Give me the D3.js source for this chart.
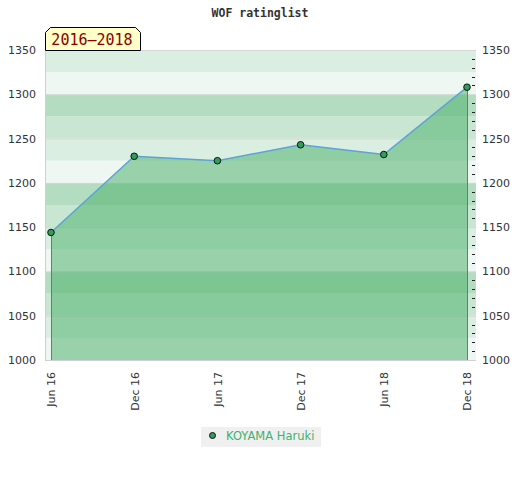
<!DOCTYPE html>
<meta charset="utf-8">
<style>
  body { margin: 0; background: #fff; }
  text { font-family: "DejaVu Sans", sans-serif; }
  .tick text { fill: #333; font-size: 11px; }
</style>
<body>
<script src="https://cdn.jsdelivr.net/npm/d3@7"></script>
<script>
// data
var months = ["Jun 16", "Dec 16", "Jun 17", "Dec 17", "Jun 18", "Dec 18"];
var ratings = [1144, 1230, 1225, 1243, 1232, 1308];
var player = "KOYAMA Haruki";
var period = "2016\u20132018";
var title = "WOF ratinglist";

var width = 520, height = 480;
var plot = { left: 45, right: 476, top: 50, bottom: 360 };

var svg = d3.select("body").append("svg")
  .attr("width", width)
  .attr("height", height);

// scales
var x = d3.scalePoint()
  .domain(months)
  .range([plot.left + 6, plot.right - 9]);
var y = d3.scaleLinear()
  .domain([1000, 1350])
  .range([plot.bottom, plot.top]);

// background bands, 25 points each
var bandColors = ["#eef7f1", "#dbeee2", "#c8e6d2", "#b3dcc1"];
var bands = d3.range(1000, 1350, 25);
svg.append("g").selectAll("rect")
  .data(bands)
  .enter().append("rect")
  .attr("x", plot.left)
  .attr("width", plot.right - plot.left)
  .attr("y", function(d) { return y(d + 25); })
  .attr("height", function(d) { return y(d) - y(d + 25); })
  .attr("fill", function(d, i) { return bandColors[i % 4]; });

// grid lines every 50
svg.append("g").selectAll("line")
  .data(y.ticks(7))
  .enter().append("line")
  .attr("x1", plot.left).attr("x2", plot.right)
  .attr("y1", function(d) { return y(d) + 0.5; })
  .attr("y2", function(d) { return y(d) + 0.5; })
  .attr("stroke", "#d6d6d6");

svg.append("line")
  .attr("x1", plot.left + 0.5).attr("x2", plot.left + 0.5)
  .attr("y1", plot.top).attr("y2", plot.bottom + 1)
  .attr("stroke", "#d0d0d0");

// area under the rating line
var area = d3.area()
  .x(function(d, i) { return x(months[i]); })
  .y0(y(1000))
  .y1(function(d) { return y(d); });

svg.append("path")
  .datum(ratings)
  .attr("d", area)
  .attr("fill", "rgb(79,178,109)")
  .attr("fill-opacity", 0.54);

// drop lines at both ends
var ends = [0, ratings.length - 1];
svg.append("g").selectAll("line")
  .data(ends)
  .enter().append("line")
  .attr("x1", function(i) { return x(months[i]) + 0.5; })
  .attr("x2", function(i) { return x(months[i]) + 0.5; })
  .attr("y1", function(i) { return y(ratings[i]); })
  .attr("y2", y(1000))
  .attr("stroke", "#2e9e5a");

var line = d3.line()
  .x(function(d, i) { return x(months[i]); })
  .y(function(d) { return y(d); });

svg.append("path")
  .datum(ratings)
  .attr("d", line)
  .attr("fill", "none")
  .attr("stroke", "#5ba3d9")
  .attr("stroke-width", 1.5);

svg.append("g").selectAll("circle")
  .data(ratings)
  .enter().append("circle")
  .attr("cx", function(d, i) { return x(months[i]); })
  .attr("cy", function(d) { return y(d); })
  .attr("r", 3.3)
  .attr("fill", "#2e9e5a")
  .attr("stroke", "#111")
  .attr("stroke-width", 1);

// left axis (labels only)
var leftAxis = svg.append("g")
  .attr("transform", "translate(" + plot.left + ",0)")
  .call(d3.axisLeft(y).ticks(7, "d").tickSize(0).tickPadding(9));
leftAxis.select(".domain").remove();

// right axis with minor ticks
var rightAxis = svg.append("g")
  .attr("transform", "translate(" + plot.right + ",0)")
  .call(d3.axisRight(y).ticks(7, "d").tickSize(0).tickPadding(6));
rightAxis.select(".domain").remove();

svg.append("g").selectAll("line")
  .data(d3.range(1010, 1350, 10).filter(function(d) { return d % 50 !== 0; }))
  .enter().append("line")
  .attr("x1", plot.right - 4).attr("x2", plot.right - 1)
  .attr("y1", function(d) { return Math.round(y(d)) + 0.5; })
  .attr("y2", function(d) { return Math.round(y(d)) + 0.5; })
  .attr("stroke", "#222");

// bottom axis, rotated labels
var bottomAxis = svg.append("g")
  .attr("transform", "translate(0," + plot.bottom + ")")
  .call(d3.axisBottom(x).tickSize(0).tickPadding(0));
bottomAxis.select(".domain")
  .attr("d", "M" + plot.left + ",0.5H" + plot.right)
  .attr("stroke", "#d0d0d0");
bottomAxis.selectAll(".tick text")
  .attr("transform", "rotate(-90)")
  .attr("text-anchor", "end")
  .attr("x", -12)
  .attr("y", 0)
  .attr("dy", "0.35em");

// title
svg.append("text")
  .attr("x", 260)
  .attr("y", 17)
  .attr("text-anchor", "middle")
  .style("font-family", "'DejaVu Sans Mono', monospace")
  .style("font-weight", "bold")
  .style("font-size", "11.5px")
  .attr("fill", "#333")
  .text(title);

// period label box
var bx0 = 45.5, bx1 = 140.5, by0 = 27.5, by1 = 50.5, c = 5;
svg.append("path")
  .attr("d", "M" + bx0 + "," + by1 + "V" + (by0 + c) + "L" + (bx0 + c) + "," + by0 +
    "H" + (bx1 - c) + "L" + bx1 + "," + (by0 + c) + "V" + by1 + "Z")
  .attr("fill", "#ffffc8")
  .attr("stroke", "#000");
svg.append("text")
  .attr("x", 92)
  .attr("y", 45)
  .attr("text-anchor", "middle")
  .style("font-family", "'DejaVu Sans Mono', monospace")
  .style("font-size", "15px")
  .attr("fill", "#8b0000")
  .text(period);

// legend
var legend = svg.append("g");
legend.append("rect")
  .attr("x", 201).attr("y", 427)
  .attr("width", 120).attr("height", 20)
  .attr("fill", "#f0f0f0");
legend.append("circle")
  .attr("cx", 212.5).attr("cy", 435.5)
  .attr("r", 3)
  .attr("fill", "#2e9e5a")
  .attr("stroke", "#111");
legend.append("text")
  .attr("x", 226).attr("y", 440)
  .style("font-size", "11.5px")
  .attr("fill", "#3cb371")
  .text(player);
</script>
</body>
